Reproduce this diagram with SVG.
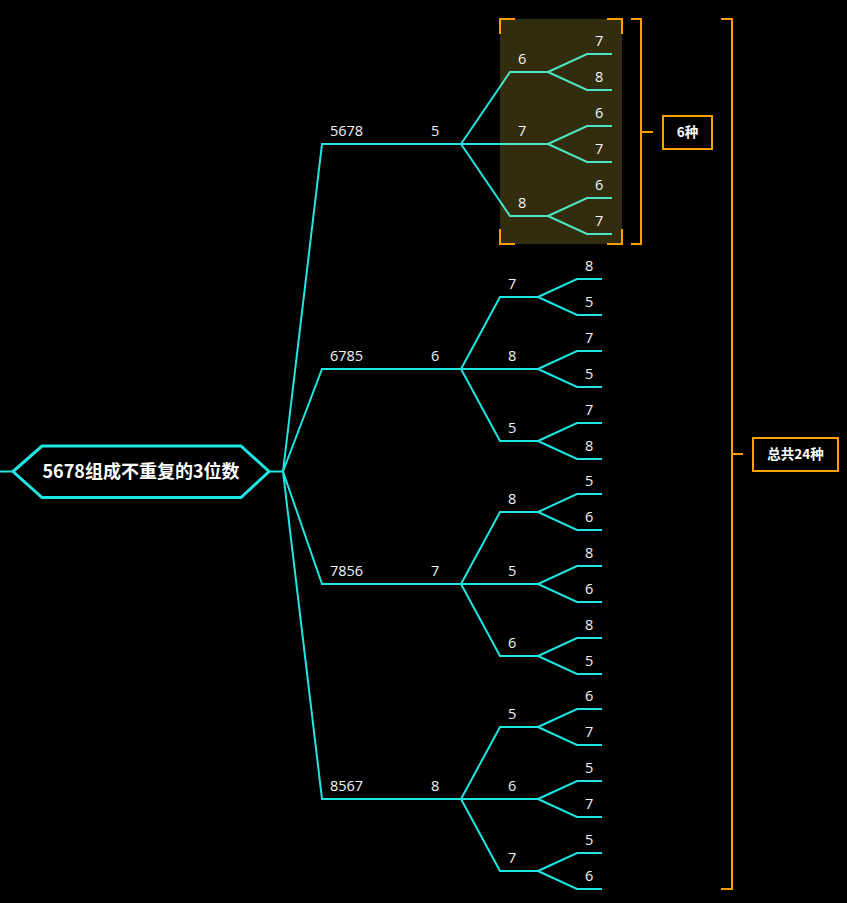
<svg xmlns="http://www.w3.org/2000/svg" width="847" height="903" viewBox="0 0 847 903">
<style>
.c{fill:none;stroke:#1ee6e2;stroke-width:2;stroke-linejoin:miter}
.t{font-family:"Open Sans","Noto Sans",sans-serif;font-size:14.5px;fill:#f4f4f4}
.o{fill:none;stroke:#ffa000;stroke-width:2}
.ob{font-family:"Noto Sans CJK SC","Noto Sans",sans-serif;font-size:13.5px;font-weight:bold;fill:#ffffff;text-anchor:middle}
</style>
<rect x="0" y="0" width="847" height="903" fill="#000"/>
<g id="connectors">
<path class="c" d="M0,471.5H13M269,471.5H283"/>
<path class="c" d="M283,471.5L322,144H461M283,471.5L322,369H461M283,471.5L322,584H461M283,471.5L322,799H461"/>
<path class="c" d="M461,144L510,72H548M461,144H548M461,144L510,216H548"/>
<path class="c" d="M548,72L587,54H612M548,72L587,90H612M548,144L587,126H612M548,144L587,162H612M548,216L587,198H612M548,216L587,234H612"/>
<path class="c" d="M461,369L500,297H538M461,369H538M461,369L500,441H538"/>
<path class="c" d="M538,297L577,279H602M538,297L577,315H602M538,369L577,351H602M538,369L577,387H602M538,441L577,423H602M538,441L577,459H602"/>
<path class="c" d="M461,584L500,512H538M461,584H538M461,584L500,656H538"/>
<path class="c" d="M538,512L577,494H602M538,512L577,530H602M538,584L577,566H602M538,584L577,602H602M538,656L577,638H602M538,656L577,674H602"/>
<path class="c" d="M461,799L500,727H538M461,799H538M461,799L500,871H538"/>
<path class="c" d="M538,727L577,709H602M538,727L577,745H602M538,799L577,781H602M538,799L577,817H602M538,871L577,853H602M538,871L577,889H602"/>
</g>
<g id="highlight">
<rect x="500" y="19" width="122" height="225" fill="rgb(255,225,80)" fill-opacity="0.2"/>
<path class="o" d="M500,34V19H515M607,19H622V34M500,229V244H515M607,244H622V229"/>
</g>
<g id="root">
<polygon points="13,471.5 42,446 241,446 269,471.5 241,497.5 42,497.5" fill="#000" stroke="#1ee6e2" stroke-width="3"/>
<text x="141" y="477.5" font-family="'Noto Sans CJK SC','Noto Sans',sans-serif" font-size="18" font-weight="bold" fill="#fff" text-anchor="middle">5678组成不重复的3位数</text>
</g>
<g id="n5678"><text class="t" x="330" y="135.5">5678</text></g>
<g id="n5678-5"><text class="t" x="431" y="135.5">5</text></g>
<g id="n5-6"><text class="t" x="518" y="63.5">6</text></g>
<g id="n5-6-7"><text class="t" x="595" y="45.5">7</text></g>
<g id="n5-6-8"><text class="t" x="595" y="81.5">8</text></g>
<g id="n5-7"><text class="t" x="518" y="135.5">7</text></g>
<g id="n5-7-6"><text class="t" x="595" y="117.5">6</text></g>
<g id="n5-7-7"><text class="t" x="595" y="153.5">7</text></g>
<g id="n5-8"><text class="t" x="518" y="207.5">8</text></g>
<g id="n5-8-6"><text class="t" x="595" y="189.5">6</text></g>
<g id="n5-8-7"><text class="t" x="595" y="225.5">7</text></g>
<g id="n6785"><text class="t" x="330" y="360.5">6785</text></g>
<g id="n6785-6"><text class="t" x="431" y="360.5">6</text></g>
<g id="n6-7"><text class="t" x="508" y="288.5">7</text></g>
<g id="n6-7-8"><text class="t" x="585" y="270.5">8</text></g>
<g id="n6-7-5"><text class="t" x="585" y="306.5">5</text></g>
<g id="n6-8"><text class="t" x="508" y="360.5">8</text></g>
<g id="n6-8-7"><text class="t" x="585" y="342.5">7</text></g>
<g id="n6-8-5"><text class="t" x="585" y="378.5">5</text></g>
<g id="n6-5"><text class="t" x="508" y="432.5">5</text></g>
<g id="n6-5-7"><text class="t" x="585" y="414.5">7</text></g>
<g id="n6-5-8"><text class="t" x="585" y="450.5">8</text></g>
<g id="n7856"><text class="t" x="330" y="575.5">7856</text></g>
<g id="n7856-7"><text class="t" x="431" y="575.5">7</text></g>
<g id="n7-8"><text class="t" x="508" y="503.5">8</text></g>
<g id="n7-8-5"><text class="t" x="585" y="485.5">5</text></g>
<g id="n7-8-6"><text class="t" x="585" y="521.5">6</text></g>
<g id="n7-5"><text class="t" x="508" y="575.5">5</text></g>
<g id="n7-5-8"><text class="t" x="585" y="557.5">8</text></g>
<g id="n7-5-6"><text class="t" x="585" y="593.5">6</text></g>
<g id="n7-6"><text class="t" x="508" y="647.5">6</text></g>
<g id="n7-6-8"><text class="t" x="585" y="629.5">8</text></g>
<g id="n7-6-5"><text class="t" x="585" y="665.5">5</text></g>
<g id="n8567"><text class="t" x="330" y="790.5">8567</text></g>
<g id="n8567-8"><text class="t" x="431" y="790.5">8</text></g>
<g id="n8-5"><text class="t" x="508" y="718.5">5</text></g>
<g id="n8-5-6"><text class="t" x="585" y="700.5">6</text></g>
<g id="n8-5-7"><text class="t" x="585" y="736.5">7</text></g>
<g id="n8-6"><text class="t" x="508" y="790.5">6</text></g>
<g id="n8-6-5"><text class="t" x="585" y="772.5">5</text></g>
<g id="n8-6-7"><text class="t" x="585" y="808.5">7</text></g>
<g id="n8-7"><text class="t" x="508" y="862.5">7</text></g>
<g id="n8-7-5"><text class="t" x="585" y="844.5">5</text></g>
<g id="n8-7-6"><text class="t" x="585" y="880.5">6</text></g>
<g id="summary6">
<path class="o" d="M631,19H641V244H631M641,132H653"/>
<rect class="o" x="663" y="116" width="49" height="33"/>
<text class="ob" x="687.5" y="137">6种</text>
</g>
<g id="summary24">
<path class="o" d="M721,19H732V889H721M732,454H743"/>
<rect class="o" x="753" y="438" width="85" height="33"/>
<text class="ob" x="795.5" y="459">总共24种</text>
</g>
</svg>
